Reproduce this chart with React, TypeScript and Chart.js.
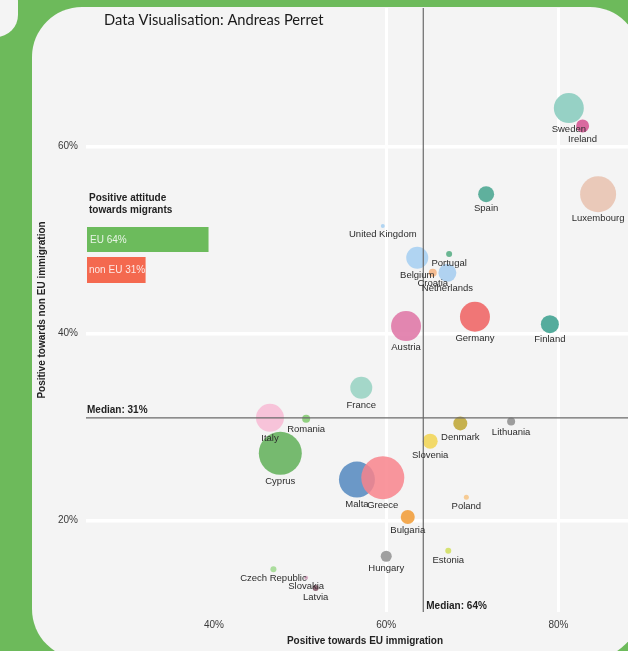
import { useEffect, useRef } from 'react';
import { Chart, registerables } from 'chart.js';

Chart.register(...registerables);

const countries = ['Sweden', 'Ireland', 'Spain', 'Luxembourg', 'United Kingdom', 'Belgium', 'Portugal', 'Croatia', 'Netherlands', 'Austria', 'Germany', 'Finland', 'France', 'Italy', 'Romania', 'Cyprus', 'Denmark', 'Lithuania', 'Slovenia', 'Malta', 'Greece', 'Poland', 'Bulgaria', 'Hungary', 'Estonia', 'Czech Republic', 'Slovakia', 'Latvia'];
const euPositive = [81.2, 82.8, 71.6, 84.6, 59.6, 63.6, 67.3, 65.4, 67.1, 62.3, 70.3, 79.0, 57.1, 46.5, 50.7, 47.7, 68.6, 74.5, 65.1, 56.6, 59.6, 69.3, 62.5, 60.0, 67.2, 46.9, 50.7, 51.8];
const nonEuPositive = [64.1, 62.2, 54.9, 54.9, 51.5, 48.1, 48.5, 46.5, 46.5, 40.8, 41.8, 41.0, 34.2, 31.0, 30.9, 27.2, 30.4, 30.6, 28.5, 24.4, 24.6, 22.5, 20.4, 16.2, 16.8, 14.8, 13.9, 12.8];
const bubbleSize = [15, 6.5, 8, 18, 2, 11, 3, 4, 9, 15, 15, 9, 11, 14, 4, 21.5, 7, 4, 7.5, 18, 21.5, 2.5, 7, 5.5, 3, 3, 2, 3];
const xTicks = [40, 60, 80];
const yTicks = [20, 40, 60];
const xGridHidden = [40];
const medianEU = 64.3;
const medianNonEU = 31;

const palette: Record<string, string> = {
  Sweden: 'rgba(140,205,192,0.9)',
  Ireland: 'rgba(214,90,150,0.9)',
  Spain: 'rgba(86,172,152,0.95)',
  Luxembourg: 'rgba(233,196,178,0.9)',
  'United Kingdom': 'rgba(170,210,242,0.9)',
  Belgium: 'rgba(168,208,242,0.9)',
  Portugal: 'rgba(98,178,140,0.95)',
  Croatia: 'rgba(246,185,140,0.95)',
  Netherlands: 'rgba(168,206,240,0.9)',
  Austria: 'rgba(224,122,168,0.9)',
  Germany: 'rgba(239,104,104,0.9)',
  Finland: 'rgba(76,168,152,0.95)',
  France: 'rgba(155,212,196,0.9)',
  Italy: 'rgba(247,190,214,0.9)',
  Romania: 'rgba(140,207,123,0.95)',
  Cyprus: 'rgba(104,180,96,0.9)',
  Denmark: 'rgba(193,170,60,0.9)',
  Lithuania: 'rgba(152,152,152,0.95)',
  Slovenia: 'rgba(242,214,90,0.9)',
  Malta: 'rgba(92,142,194,0.9)',
  Greece: 'rgba(248,132,140,0.85)',
  Poland: 'rgba(246,200,142,0.95)',
  Bulgaria: 'rgba(242,160,62,0.9)',
  Hungary: 'rgba(155,155,155,0.95)',
  Estonia: 'rgba(212,224,106,0.95)',
  'Czech Republic': 'rgba(166,219,152,0.95)',
  Slovakia: 'rgba(214,166,192,0.9)',
  Latvia: 'rgba(138,96,112,0.95)',
};

const FONT = '"Liberation Sans", Arial, sans-serif';

const overlayPlugin = {
  id: 'overlay',
  afterDatasetsDraw(chart: any) {
    const { ctx, chartArea, scales } = chart;
    const xs = scales.x;
    const ys = scales.y;
    const mx = xs.getPixelForValue(medianEU);
    const my = ys.getPixelForValue(medianNonEU);
    ctx.save();
    ctx.strokeStyle = '#6a6a6a';
    ctx.lineWidth = 1.2;
    ctx.beginPath();
    ctx.moveTo(mx, chartArea.top);
    ctx.lineTo(mx, chartArea.bottom);
    ctx.moveTo(chartArea.left, my);
    ctx.lineTo(chartArea.right, my);
    ctx.stroke();

    const meta = chart.getDatasetMeta(0);
    ctx.font = `9.5px ${FONT}`;
    ctx.fillStyle = '#2c2c2c';
    ctx.textAlign = 'center';
    ctx.textBaseline = 'middle';
    meta.data.forEach((el: any, i: number) => {
      const r = el.options.radius;
      ctx.fillText(countries[i], el.x, el.y + r + 6.5);
    });

    ctx.font = `bold 10px ${FONT}`;
    ctx.fillStyle = '#222';
    ctx.textAlign = 'left';
    ctx.fillText(`Median: ${Math.round(medianNonEU)}%`, chartArea.left + 1, my - 7.5);
    ctx.fillText(`Median: ${Math.round(medianEU)}%`, mx + 3, chartArea.bottom - 6);
    ctx.restore();
  },
  afterDraw(chart: any) {
    const { ctx } = chart;
    ctx.save();
    ctx.font = `14.7px Lato, "Open Sans", sans-serif`;
    ctx.fillStyle = '#1a1a1a';
    ctx.textAlign = 'left';
    ctx.textBaseline = 'middle';
    ctx.fillText('Data Visualisation: Andreas Perret', 104, 20);

    ctx.font = `bold 10px ${FONT}`;
    ctx.fillStyle = '#222';
    ctx.textAlign = 'center';
    ctx.fillText('Positive towards EU immigration', 365, 641);
    ctx.save();
    ctx.translate(42, 310);
    ctx.rotate(-Math.PI / 2);
    ctx.fillText('Positive towards non EU immigration', 0, 0);
    ctx.restore();

    ctx.textAlign = 'left';
    ctx.fillText('Positive attitude', 89, 198.5);
    ctx.fillText('towards migrants', 89, 210.5);
    const pxPerPct = 1.89;
    const wEU = medianEU * pxPerPct;
    const wNon = medianNonEU * pxPerPct;
    ctx.fillStyle = '#6cbb5c';
    ctx.fillRect(87, 227, wEU, 25);
    ctx.fillStyle = '#f4694f';
    ctx.fillRect(87, 257, wNon, 26);
    ctx.font = `10px ${FONT}`;
    ctx.fillStyle = 'rgba(255,255,255,0.85)';
    ctx.fillText(`EU ${Math.round(medianEU)}%`, 90, 240);
    ctx.save();
    ctx.beginPath();
    ctx.rect(87, 257, wNon, 26);
    ctx.clip();
    ctx.fillText(`non EU ${Math.round(medianNonEU)}%`, 89, 270.5);
    ctx.restore();
    ctx.restore();
  },
};

export default function App() {
  const canvasRef = useRef<HTMLCanvasElement | null>(null);

  useEffect(() => {
    if (!canvasRef.current) return;
    const data = countries.map((_, i) => ({ x: euPositive[i], y: nonEuPositive[i], r: bubbleSize[i] }));
    const chart = new Chart(canvasRef.current, {
      type: 'bubble',
      data: {
        datasets: [
          {
            data,
            backgroundColor: countries.map((c) => palette[c]),
            borderWidth: 0,
            hoverBorderWidth: 0,
            clip: false,
          } as any,
        ],
      },
      options: {
        animation: false,
        responsive: false,
        maintainAspectRatio: false,
        layout: { autoPadding: false, padding: { top: 8, left: 0, right: 0, bottom: 0 } },
        plugins: { legend: { display: false }, tooltip: { enabled: false } },
        scales: {
          x: {
            type: 'linear',
            min: 25.14,
            max: 88.07,
            afterBuildTicks: (s: any) => {
              s.ticks = xTicks.map((v) => ({ value: v }));
            },
            afterFit: (s: any) => {
              s.height = 39;
              s.paddingLeft = 0;
              s.paddingRight = 0;
            },
            grid: {
              color: (c: any) => (c.tick && xGridHidden.includes(c.tick.value) ? 'rgba(0,0,0,0)' : '#ffffff'),
              lineWidth: 3,
              drawTicks: false,
            },
            border: { display: false },
            ticks: {
              padding: 7,
              color: '#3a3a3a',
              font: { size: 10, family: FONT },
              callback: (v: any) => `${v}%`,
            },
          },
          y: {
            type: 'linear',
            min: 10.24,
            max: 74.8,
            afterBuildTicks: (s: any) => {
              s.ticks = yTicks.map((v) => ({ value: v }));
            },
            afterFit: (s: any) => {
              s.width = 86;
              s.paddingTop = 0;
              s.paddingBottom = 0;
            },
            grid: { color: '#ffffff', lineWidth: 3.5, drawTicks: false },
            border: { display: false },
            ticks: {
              padding: 8,
              color: '#3a3a3a',
              font: { size: 10, family: FONT },
              callback: (v: any) => `${v}%`,
            },
          },
        },
      } as any,
      plugins: [overlayPlugin],
    });
    return () => chart.destroy();
  }, []);

  return (
    <div style={{ position: 'fixed', left: 0, top: 0, width: 628, height: 651, background: '#6dba5b', overflow: 'hidden' }}>
      <div style={{ position: 'absolute', left: -40, top: -20, width: 58, height: 57, borderRadius: 22, background: '#f4f4f4' }} />
      <div style={{ position: 'absolute', left: 32, top: 7, width: 608, height: 652, borderRadius: 50, background: '#f4f4f4' }} />
      <canvas ref={canvasRef} width={628} height={651} style={{ position: 'absolute', left: 0, top: 0, width: 628, height: 651 }} />
    </div>
  );
}
